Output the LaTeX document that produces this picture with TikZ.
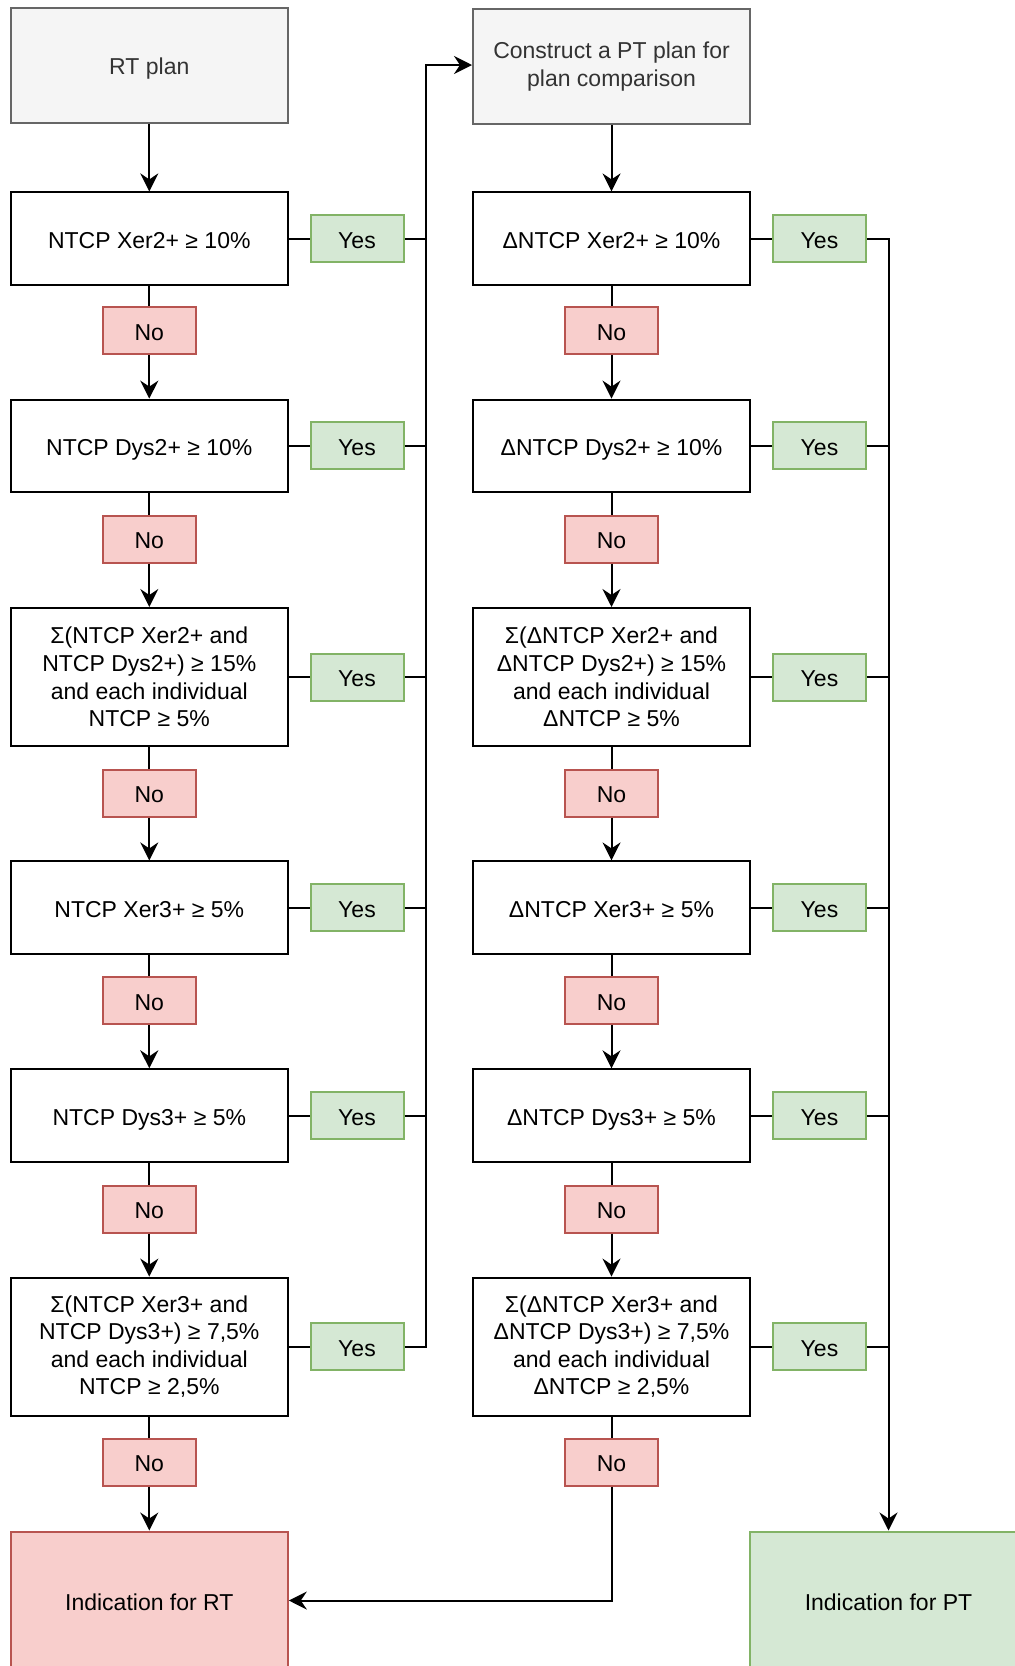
\documentclass[tikz,border=0pt]{standalone}
\usepackage{fontspec}
\setmainfont{Liberation Sans}
\usetikzlibrary{arrows.meta,positioning}

\definecolor{planfill}{HTML}{F5F5F5}
\definecolor{planline}{HTML}{666666}
\definecolor{plantext}{HTML}{333333}
\definecolor{yesfill}{HTML}{D5E8D4}
\definecolor{yesline}{HTML}{82B366}
\definecolor{nofill}{HTML}{F8CECC}
\definecolor{noline}{HTML}{B85450}

\tikzset{
  every node/.style={font=\fontsize{11.5pt}{13.8pt}\selectfont,align=center,inner sep=0pt},
  oneline/.style={text height=1.05em,text depth=0.1em},
  plan/.style={rectangle,draw=planline,fill=planfill,text=plantext,line width=1pt,minimum width=138.5pt,minimum height=57.5pt},
  crit/.style={rectangle,draw,line width=1pt,minimum width=138.5pt,minimum height=46.2pt,oneline},
  critbig/.style={rectangle,draw,line width=1pt,minimum width=138.5pt,minimum height=69pt},
  yesbox/.style={rectangle,draw=yesline,fill=yesfill,line width=1pt,minimum width=46.5pt,minimum height=23.5pt,oneline},
  nobox/.style={rectangle,draw=noline,fill=nofill,line width=1pt,minimum width=46.5pt,minimum height=23.5pt,oneline},
  rtend/.style={rectangle,draw=noline,fill=nofill,line width=1pt,minimum width=138.5pt,minimum height=69pt,oneline},
  ptend/.style={rectangle,draw=yesline,fill=yesfill,line width=1pt,minimum width=138.5pt,minimum height=69pt,oneline},
  link/.style={line width=1pt},
  flow/.style={line width=1pt,-{Stealth[length=9pt,width=9pt,inset=3pt]}}
}

\begin{document}
\begin{tikzpicture}[x=0.5pt,y=-0.5pt]
  \clip (0,0) rectangle (1015,1666);

  % start boxes
  \node[plan,oneline] (rt) at (149.3,65) {RT plan};
  \node[plan] (pt) at (611.5,66.5) {Construct a PT plan for\\plan comparison};

  % RT plan column
  \node[crit] (l1) at (149.3,238.6) {NTCP Xer2+ ≥ 10\%};
  \node[nobox] (nl1) at (149.3,330.5) {No};
  \node[yesbox] (yl1) at (357,238.6) {Yes};
  \node[crit] (l2) at (149.3,445.8) {NTCP Dys2+ ≥ 10\%};
  \node[nobox] (nl2) at (149.3,539) {No};
  \node[yesbox] (yl2) at (357,445.8) {Yes};
  \node[critbig] (l3) at (149.3,677) {Σ(NTCP Xer2+ and\\NTCP Dys2+) ≥ 15\%\\and each individual\\NTCP ≥ 5\%};
  \node[nobox] (nl3) at (149.3,793) {No};
  \node[yesbox] (yl3) at (357,677) {Yes};
  \node[crit] (l4) at (149.3,907.6) {NTCP Xer3+ ≥ 5\%};
  \node[nobox] (nl4) at (149.3,1000.6) {No};
  \node[yesbox] (yl4) at (357,907.6) {Yes};
  \node[crit] (l5) at (149.3,1115.5) {NTCP Dys3+ ≥ 5\%};
  \node[nobox] (nl5) at (149.3,1209) {No};
  \node[yesbox] (yl5) at (357,1115.5) {Yes};
  \node[critbig] (l6) at (149.3,1346.6) {Σ(NTCP Xer3+ and\\NTCP Dys3+) ≥ 7,5\%\\and each individual\\NTCP ≥ 2,5\%};
  \node[nobox] (nl6) at (149.3,1462) {No};
  \node[yesbox] (yl6) at (357,1346.6) {Yes};

  % PT plan column
  \node[crit] (r1) at (611.5,238.6) {ΔNTCP Xer2+ ≥ 10\%};
  \node[nobox] (nr1) at (611.5,330.5) {No};
  \node[yesbox] (yr1) at (819.5,238.6) {Yes};
  \node[crit] (r2) at (611.5,445.8) {ΔNTCP Dys2+ ≥ 10\%};
  \node[nobox] (nr2) at (611.5,539) {No};
  \node[yesbox] (yr2) at (819.5,445.8) {Yes};
  \node[critbig] (r3) at (611.5,677) {Σ(ΔNTCP Xer2+ and\\ΔNTCP Dys2+) ≥ 15\%\\and each individual\\ΔNTCP ≥ 5\%};
  \node[nobox] (nr3) at (611.5,793) {No};
  \node[yesbox] (yr3) at (819.5,677) {Yes};
  \node[crit] (r4) at (611.5,907.6) {ΔNTCP Xer3+ ≥ 5\%};
  \node[nobox] (nr4) at (611.5,1000.6) {No};
  \node[yesbox] (yr4) at (819.5,907.6) {Yes};
  \node[crit] (r5) at (611.5,1115.5) {ΔNTCP Dys3+ ≥ 5\%};
  \node[nobox] (nr5) at (611.5,1209) {No};
  \node[yesbox] (yr5) at (819.5,1115.5) {Yes};
  \node[critbig] (r6) at (611.5,1346.6) {Σ(ΔNTCP Xer3+ and\\ΔNTCP Dys3+) ≥ 7,5\%\\and each individual\\ΔNTCP ≥ 2,5\%};
  \node[nobox] (nr6) at (611.5,1462) {No};
  \node[yesbox] (yr6) at (819.5,1346.6) {Yes};

  % outcomes
  \node[rtend] (indrt) at (149.3,1600.5) {Indication for RT};
  \node[ptend] (indpt) at (888.5,1600.5) {Indication for PT};

  % No chains
  \draw[flow] (rt) -- (l1);
  \draw[link] (l1) -- (nl1);
  \draw[flow] (nl1) -- (l2);
  \draw[link] (l2) -- (nl2);
  \draw[flow] (nl2) -- (l3);
  \draw[link] (l3) -- (nl3);
  \draw[flow] (nl3) -- (l4);
  \draw[link] (l4) -- (nl4);
  \draw[flow] (nl4) -- (l5);
  \draw[link] (l5) -- (nl5);
  \draw[flow] (nl5) -- (l6);
  \draw[link] (l6) -- (nl6);
  \draw[flow] (nl6) -- (indrt);

  \draw[flow] (pt) -- (r1);
  \draw[link] (r1) -- (nr1);
  \draw[flow] (nr1) -- (r2);
  \draw[link] (r2) -- (nr2);
  \draw[flow] (nr2) -- (r3);
  \draw[link] (r3) -- (nr3);
  \draw[flow] (nr3) -- (r4);
  \draw[link] (r4) -- (nr4);
  \draw[flow] (nr4) -- (r5);
  \draw[link] (r5) -- (nr5);
  \draw[flow] (nr5) -- (r6);
  \draw[link] (r6) -- (nr6);
  \draw[flow] (nr6) |- (indrt);

  % Yes branches, left column to PT plan
  \coordinate (busl) at (426,65);
  \draw[link] (l1) -- (yl1);
  \draw[link] (l2) -- (yl2);
  \draw[link] (l3) -- (yl3);
  \draw[link] (l4) -- (yl4);
  \draw[link] (l5) -- (yl5);
  \draw[link] (l6) -- (yl6);
  \draw[link] (yl1.east) -- (yl1.east -| busl);
  \draw[link] (yl2.east) -- (yl2.east -| busl);
  \draw[link] (yl3.east) -- (yl3.east -| busl);
  \draw[link] (yl4.east) -- (yl4.east -| busl);
  \draw[link] (yl5.east) -- (yl5.east -| busl);
  \draw[flow] (yl6.east) -| (busl) -- (busl -| pt.west);

  % Yes branches, right column to PT indication
  \draw[link] (r1) -- (yr1);
  \draw[link] (r2) -- (yr2);
  \draw[link] (r3) -- (yr3);
  \draw[link] (r4) -- (yr4);
  \draw[link] (r5) -- (yr5);
  \draw[link] (r6) -- (yr6);
  \draw[flow] (yr1.east) -| (indpt.north);
  \draw[link] (yr2.east) -- (yr2.east -| indpt.north);
  \draw[link] (yr3.east) -- (yr3.east -| indpt.north);
  \draw[link] (yr4.east) -- (yr4.east -| indpt.north);
  \draw[link] (yr5.east) -- (yr5.east -| indpt.north);
  \draw[link] (yr6.east) -- (yr6.east -| indpt.north);
\end{tikzpicture}
\end{document}
